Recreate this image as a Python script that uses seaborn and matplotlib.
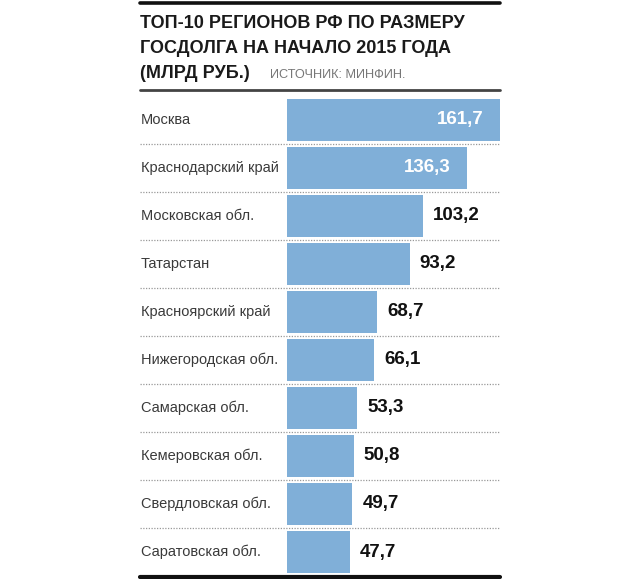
import matplotlib
matplotlib.use("Agg")
import matplotlib.pyplot as plt
from matplotlib.lines import Line2D
import seaborn as sns
import pandas as pd

regions = ["Москва", "Краснодарский край", "Московская обл.", "Татарстан",
           "Красноярский край", "Нижегородская обл.", "Самарская обл.",
           "Кемеровская обл.", "Свердловская обл.", "Саратовская обл."]
debt = [161.7, 136.3, 103.2, 93.2, 68.7, 66.1, 53.3, 50.8, 49.7, 47.7]
value_labels = ["161,7", "136,3", "103,2", "93,2", "68,7", "66,1", "53,3", "50,8", "49,7", "47,7"]
title_lines = ["ТОП-10 РЕГИОНОВ РФ ПО РАЗМЕРУ", "ГОСДОЛГА НА НАЧАЛО 2015 ГОДА", "(МЛРД РУБ.)"]
source = "ИСТОЧНИК: МИНФИН."

sns.set_style("white")
plt.rcParams["font.family"] = ["Liberation Sans", "DejaVu Sans"]

W, H = 640, 579
fig = plt.figure(figsize=(6.4, 5.79), dpi=100)

def fx(px):
    return px / W

def fy(py):
    return 1 - py / H

ax_left, ax_right = 287, 500
ax_top, ax_bot = 96, 576
ax = fig.add_axes([fx(ax_left), fy(ax_bot), fx(ax_right - ax_left), (ax_bot - ax_top) / H])

df = pd.DataFrame({"region": regions, "debt": debt})
sns.barplot(data=df, y="region", x="debt", orient="h", color="#80afd8",
            saturation=1, width=42 / 48, ax=ax, edgecolor="none")
ax.set_xlim(0, max(debt))
ax.set_ylim(len(regions) - 0.5, -0.5)
ax.axis("off")

px_per_unit = (ax_right - ax_left) / max(debt)
for i, (v, lab, reg) in enumerate(zip(debt, value_labels, regions)):
    ycen = ax_top + 48 * i + 24
    fig.text(fx(141), fy(ycen), reg, ha="left", va="center", fontsize=10.5,
             color="#3a3a3a")
    if v > 120:
        ax.text(v - 16 / px_per_unit, i, lab, ha="right", va="center",
                fontsize=13.5, fontweight="bold", color="white")
    else:
        ax.text(v + 10 / px_per_unit, i, lab, ha="left", va="center",
                fontsize=13.5, fontweight="bold", color="#111111")
    if i < len(regions) - 1:
        yb = ax_top + 48 * (i + 1)
        fig.add_artist(Line2D([fx(140), fx(500)], [fy(yb), fy(yb)], color="#999999",
                              lw=0.9, linestyle=(0, (1, 1.2))))

# rules
fig.add_artist(Line2D([fx(140), fx(500)], [fy(3), fy(3)], color="#111111", lw=2.6))
fig.add_artist(Line2D([fx(140), fx(500)], [fy(90), fy(90)], color="#444444", lw=2.0))
fig.add_artist(Line2D([fx(140), fx(500)], [fy(577), fy(577)], color="#111111", lw=3.0))

# title
baselines = [28, 53, 78]
for t, b in zip(title_lines, baselines):
    fig.text(fx(140), fy(b), t, ha="left", va="baseline", fontsize=13,
             fontweight="bold", color="#1a1a1a")
fig.text(fx(270), fy(78), source, ha="left", va="baseline", fontsize=9.2,
         color="#777777")

fig.savefig("out.png", dpi=100, facecolor="white")
